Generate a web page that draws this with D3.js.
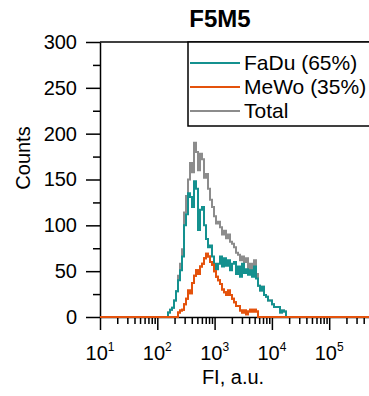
<!DOCTYPE html>
<html>
<head>
<meta charset="utf-8">
<script src="https://cdn.jsdelivr.net/npm/d3@7"></script>
<style>
  body { margin: 0; background: #fff; }
  svg { display: block; font-family: "Liberation Sans", Arial, sans-serif; }
</style>
</head>
<body>
<div id="chart"></div>
<script>
// histogram bins: log10 of the first edge and width of each bin (in decades)
const binLog0 = 2.187
const binLogWidth = 0.0349

// counts per bin
const fadu = [5,8,10,18,28,40,51,66,100,112,135,131,120,148,140,95,117,120,100,85,
  76,78,66,58,52,58,66,55,64,56,62,51,58,60,47,55,44,58,48,52,
  46,51,44,55,42,34,29,33,24,22,18,18,14,11,11,11,5,7,6,0]
const mewo = [0,0,0,0,0,5,7,8,14,20,29,26,37,45,51,47,55,58,64,69,
  66,60,57,50,44,40,36,30,27,24,29,24,20,16,12,12,7,5,7,3,
  6,8,6,8,6,0,0,0,0,0,0,0,0,0,0,0,0,0,0,0]
const total = [5,8,10,18,28,45,58,74,114,132,150,168,158,190,180,160,178,172,152,156,
  140,128,120,110,102,104,98,90,94,86,90,82,80,76,70,68,62,66,60,64,
  52,58,50,62,47,34,29,33,24,22,18,18,14,11,11,11,5,7,6,0]

const seriesNames = ["FaDu (65%)", "MeWo (35%)", "Total"]
const seriesColors = ["#14918f", "#e4520c", "#8c8c8c"]

const yMajor = [0, 50, 100, 150, 200, 250, 300]
const yMinor = [25, 75, 125, 175, 225, 275]
const xMajor = [1e1, 1e2, 1e3, 1e4, 1e5, 1e6]
const xLabelled = [1e1, 1e2, 1e3, 1e4, 1e5]
const xExp = [1, 2, 3, 4, 5]

const width = 369, height = 396

const svg = d3.select("#chart").append("svg")
  .attr("width", width)
  .attr("height", height)

const x = d3.scaleLog().domain([10, 1e6]).range([100, 100 + 57.3 * 5])
const y = d3.scaleLinear().domain([0, 300]).range([317, 42])

// turn counts into a step outline that runs along the baseline
function toSteps(counts) {
  let pts = [[10, 0]]
  counts.forEach((c, i) => pts.push([Math.pow(10, binLog0 + i * binLogWidth), c]))
  pts.push([Math.pow(10, binLog0 + counts.length * binLogWidth), 0])
  pts.push([1e6, 0])
  return pts
}

let line = d3.line()
  .x(d => x(d[0]))
  .y(d => y(d[1]))
  .curve(d3.curveStepAfter)

// grey under teal under orange
let drawOrder = [[total, 2], [fadu, 0], [mewo, 1]]
svg.append("g")
  .selectAll("path")
  .data(drawOrder)
  .enter()
  .append("path")
  .attr("d", d => line(toSteps(d[0])))
  .attr("fill", "none")
  .attr("stroke", d => seriesColors[d[1]])
  .attr("stroke-width", 2)

// y axis
let yAxis = svg.append("g").attr("transform", "translate(100,0)")
yAxis.call(d3.axisLeft(y).tickValues(yMajor).tickSize(14).tickSizeOuter(0).tickPadding(9))
yAxis.append("g").call(d3.axisLeft(y).tickValues(yMinor).tickSize(7).tickFormat(""))
  .select(".domain").remove()
yAxis.selectAll("text").attr("font-size", 20).attr("fill", "#000")
  .attr("font-family", "Liberation Sans, Arial, sans-serif")
yAxis.selectAll("line, path").attr("stroke", "#000").attr("stroke-width", 1.5)

// x axis
let xMinor = []
for (let d = 1; d <= 5; d++) for (let k = 2; k <= 9; k++) xMinor.push(k * Math.pow(10, d))

let xAxis = svg.append("g").attr("transform", "translate(0,317)")
xAxis.call(d3.axisBottom(x).tickValues(xMajor).tickSize(13).tickSizeOuter(0).tickFormat(""))
xAxis.append("g").call(d3.axisBottom(x).tickValues(xMinor).tickSize(7).tickFormat(""))
  .select(".domain").remove()
xAxis.selectAll("line, path").attr("stroke", "#000").attr("stroke-width", 1.5)

// redraw the orange baseline over the axis line
svg.append("path")
  .attr("d", line(toSteps(mewo)))
  .attr("fill", "none")
  .attr("stroke", seriesColors[1])
  .attr("stroke-width", 2)

let xLabels = svg.append("g")
  .selectAll("text")
  .data(xLabelled)
  .enter()
  .append("text")
  .attr("x", d => x(d))
  .attr("y", 360)
  .attr("text-anchor", "middle")
  .attr("font-size", 20)
xLabels.append("tspan").text("10")
xLabels.append("tspan")
  .attr("dy", -9)
  .attr("font-size", 12)
  .text((d, i) => xExp[i])

// top frame line
svg.append("line")
  .attr("x1", 100).attr("x2", width + 20)
  .attr("y1", y(300)).attr("y2", y(300))
  .attr("stroke", "#000").attr("stroke-width", 1.5)

// legend
let legend = svg.append("g").attr("transform", "translate(188,42)")
legend.append("rect")
  .attr("width", 250).attr("height", 84)
  .attr("fill", "#fff").attr("stroke", "#000").attr("stroke-width", 1.5)
let rows = legend.selectAll("g.row")
  .data(seriesNames)
  .enter()
  .append("g")
  .attr("class", "row")
  .attr("transform", (d, i) => "translate(0," + (21 + i * 24) + ")")
rows.append("line")
  .attr("x1", 2).attr("x2", 52)
  .attr("stroke", (d, i) => seriesColors[i]).attr("stroke-width", 2)
rows.append("text")
  .attr("x", 56).attr("y", 7)
  .attr("font-size", 21)
  .text(d => d)

// titles
svg.append("text")
  .attr("x", 220).attr("y", 27)
  .attr("text-anchor", "middle")
  .attr("font-size", 24).attr("font-weight", "bold")
  .text("F5M5")

svg.append("text")
  .attr("transform", "translate(30,158) rotate(-90)")
  .attr("text-anchor", "middle")
  .attr("font-size", 20)
  .text("Counts")

svg.append("text")
  .attr("x", 233).attr("y", 384)
  .attr("text-anchor", "middle")
  .attr("font-size", 20)
  .text("FI, a.u.")
</script>
</body>
</html>
